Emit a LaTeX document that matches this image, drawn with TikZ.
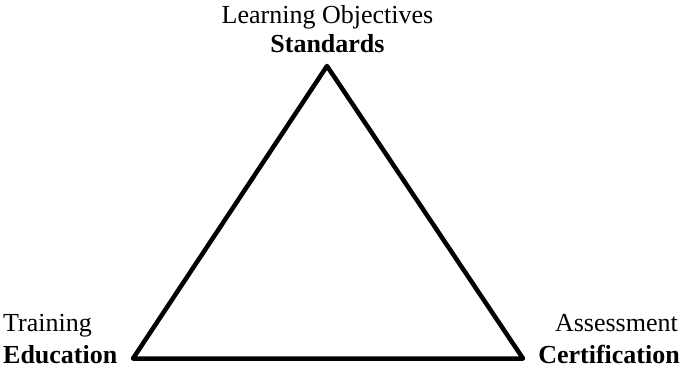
\documentclass[tikz,border=0pt]{standalone}
\usepackage{fontspec}
\setmainfont{Liberation Serif}
\begin{document}
\begin{tikzpicture}[x=1pt,y=-1pt,
  lbl/.style={inner sep=0pt,font=\fontsize{26}{30}\selectfont},
  blbl/.style={inner sep=0pt,font=\fontsize{26}{30}\selectfont\bfseries},
  tri/.style={line width=4.5pt,line join=round,line cap=round}]
\useasboundingbox (0,0) rectangle (682,366);
\coordinate (top) at (327,66);
\coordinate (bl) at (133,358.5);
\coordinate (br) at (523,358.5);
\draw[tri] (top) -- (bl) -- (br) -- cycle;
\node[lbl,anchor=base] (lo) at (327.5,24) {Learning Objectives};
\node[blbl,anchor=base] (std) at (327.5,53) {Standards};
\node[lbl,anchor=base west] (tr) at (3,331) {Training};
\node[blbl,anchor=base west] (ed) at (3,363) {Education};
\node[lbl,anchor=base east] (as) at (678,331) {Assessment};
\node[blbl,anchor=base east] (ce) at (680,363) {Certification};
\end{tikzpicture}
\end{document}
